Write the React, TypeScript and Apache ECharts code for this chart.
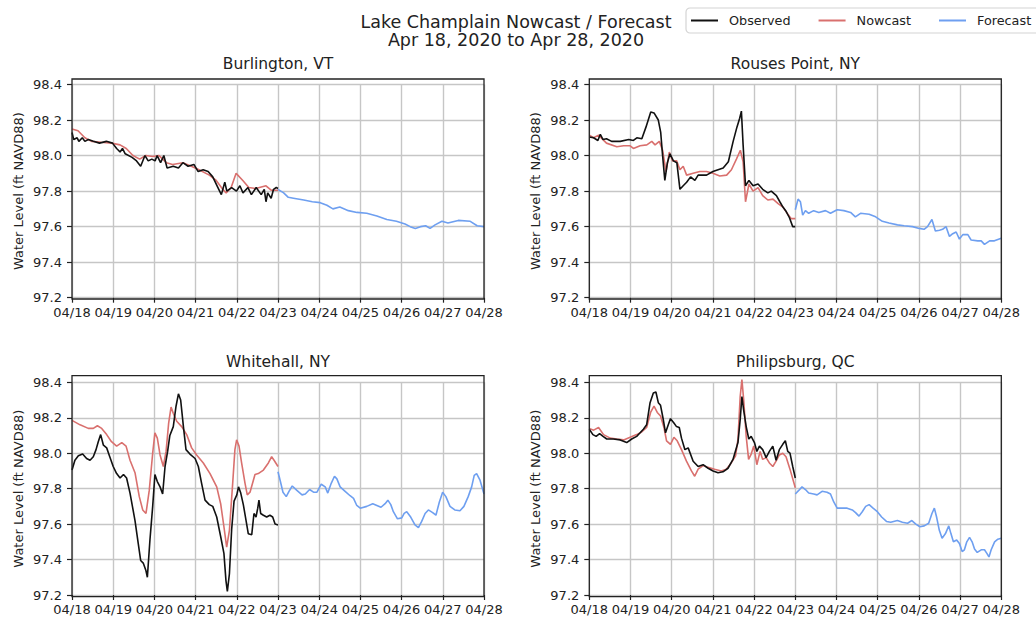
import React, { useEffect, useRef } from "react";
import * as echarts from "echarts";

// x values are hours since 04/18 00:00, y values are water level (ft NAVD88)
const stations = ["Burlington, VT", "Rouses Point, NY", "Whitehall, NY", "Philipsburg, QC"];
const dayLabels = ["04/18", "04/19", "04/20", "04/21", "04/22", "04/23", "04/24", "04/25", "04/26", "04/27", "04/28"];
const yTicks = [97.2, 97.4, 97.6, 97.8, 98.0, 98.2, 98.4];

const burlingtonObserved = [
  [0, 98.13], [1, 98.09], [3, 98.1], [4, 98.08], [6, 98.1], [7.5, 98.08], [9.5, 98.09], [12.4, 98.08], [16, 98.07],
  [20, 98.08], [23.6, 98.07], [26, 98.04], [28, 98.02], [29.4, 98.04], [31, 98.01], [35, 97.99], [37.6, 97.97],
  [40, 97.94], [42.5, 98.0], [44.4, 97.97], [46.5, 97.98], [48.4, 97.97], [49.6, 98.0], [51.6, 97.96], [53.5, 98.0],
  [55.4, 97.93], [59, 97.94], [62, 97.93], [64.6, 97.96], [67.6, 97.94], [71, 97.95], [73.5, 97.91], [76.4, 97.92],
  [79.3, 97.91], [82, 97.88], [85, 97.82], [87, 97.78], [89, 97.85], [90.2, 97.8], [93, 97.82], [95.8, 97.8],
  [97.8, 97.83], [99.6, 97.79], [102.5, 97.82], [104.5, 97.78], [107.3, 97.82], [110.2, 97.78], [112, 97.81],
  [113, 97.74], [114, 97.79], [116, 97.76], [117.4, 97.81], [119, 97.82], [120, 97.815],
];
const burlingtonNowcast = [
  [0, 98.15], [3.5, 98.14], [7.5, 98.1], [11.4, 98.08], [17, 98.075], [23, 98.07], [28, 98.06], [31.6, 98.04],
  [35.5, 98.0], [39.4, 97.98], [43, 98.0], [47, 97.995], [50.7, 98.0], [55, 97.96], [58.6, 97.95], [64.6, 97.96],
  [69.5, 97.94], [74, 97.92], [80, 97.89], [84, 97.86], [87.8, 97.81], [89.8, 97.79], [92.7, 97.82], [95.6, 97.9],
  [99.5, 97.86], [103, 97.82], [107, 97.815], [113, 97.83], [116, 97.805], [120, 97.805],
];
const burlingtonForecast = [
  [120, 97.81], [123.3, 97.79], [126, 97.765], [129, 97.76], [135, 97.75], [140, 97.74], [144.6, 97.735],
  [148.5, 97.72], [152, 97.7], [156, 97.71], [161, 97.69], [166, 97.68], [171.7, 97.675], [177.6, 97.66],
  [183.4, 97.64], [189, 97.63], [194, 97.615], [197, 97.6], [200, 97.59], [203, 97.6], [206, 97.605],
  [208.6, 97.59], [211.5, 97.61], [215.5, 97.63], [219, 97.62], [225, 97.635], [232, 97.63], [236, 97.605], [240, 97.6],
];

const rousesObserved = [
  [0, 98.105], [2.5, 98.1], [5, 98.085], [6.4, 98.12], [8, 98.09], [10, 98.095], [13, 98.08], [18, 98.08],
  [23, 98.09], [25.7, 98.085], [27.7, 98.1], [30.6, 98.095], [33, 98.16], [35.8, 98.245], [37.7, 98.24],
  [40.2, 98.2], [41.6, 98.13], [42.7, 98.0], [44, 97.86], [45.5, 97.96], [47, 98.01], [49, 97.97], [51, 97.96],
  [52.8, 97.81], [54.7, 97.83], [56.7, 97.85], [59, 97.88], [61.5, 97.86], [63.4, 97.89], [68.3, 97.89],
  [72, 97.91], [75, 97.92], [78, 97.93], [81, 97.965], [83.8, 98.08], [86, 98.16], [87.6, 98.21], [88.6, 98.25],
  [89.6, 98.06], [91, 97.83], [93, 97.86], [95.4, 97.83], [98.3, 97.84], [101, 97.81], [104, 97.79], [106, 97.8],
  [109, 97.775], [111, 97.74], [112.8, 97.71], [114.7, 97.685], [116.6, 97.65], [118.5, 97.6], [120, 97.6],
];
const rousesNowcast = [
  [0, 98.115], [2.5, 98.1], [5.4, 98.115], [7.4, 98.095], [10, 98.07], [16, 98.05], [20, 98.055], [23.8, 98.055],
  [25.7, 98.04], [29.6, 98.055], [33.5, 98.06], [36.4, 98.08], [38.3, 98.06], [40.8, 98.08], [42.7, 98.03],
  [44.7, 97.91], [46.6, 98.02], [48.5, 97.97], [50.9, 97.97], [52.8, 97.92], [54.7, 97.94], [56.7, 97.89],
  [60.5, 97.9], [64.4, 97.91], [68.3, 97.91], [72, 97.9], [76, 97.885], [80, 97.89], [82.8, 97.92], [85.7, 97.98],
  [88, 98.03], [89.6, 97.965], [91, 97.74], [93, 97.84], [95.4, 97.8], [98.3, 97.82], [101, 97.775], [104, 97.75],
  [107, 97.755], [110, 97.73], [112.8, 97.71], [115.7, 97.67], [117.6, 97.645], [120, 97.645],
];
const rousesForecast = [
  [120, 97.695], [121.6, 97.755], [123, 97.74], [124.3, 97.665], [125.9, 97.69], [127.8, 97.675], [130.7, 97.69],
  [133.7, 97.68], [137.6, 97.69], [140.5, 97.675], [144.4, 97.695], [148.3, 97.69], [152.2, 97.68], [155, 97.655],
  [158, 97.675], [163, 97.67], [166.8, 97.655], [170.7, 97.63], [174.6, 97.62], [179.5, 97.61], [183.4, 97.605],
  [188.3, 97.6], [192.2, 97.59], [195, 97.585], [197, 97.6], [199.6, 97.64], [201.6, 97.575], [204, 97.58],
  [205.8, 97.585], [207.8, 97.6], [209.8, 97.545], [211.7, 97.56], [213.7, 97.57], [215.6, 97.53], [217.6, 97.555],
  [220.5, 97.555], [222.4, 97.525], [226.3, 97.52], [228.3, 97.52], [230.2, 97.5], [233.2, 97.52], [236, 97.52], [240, 97.535],
];

const whitehallObserved = [
  [0, 97.905], [1.7, 97.96], [3.7, 97.985], [6.2, 97.995], [8.5, 97.97], [10.5, 97.96], [12.4, 97.98], [14, 98.02],
  [15.3, 98.065], [16.7, 98.105], [18.3, 98.045], [20.2, 98.03], [22, 97.98], [24, 97.925], [26, 97.885], [28, 97.86],
  [30, 97.88], [31.8, 97.86], [33.8, 97.775], [36.7, 97.62], [38.6, 97.49], [40, 97.395], [41.5, 97.38], [43, 97.34],
  [43.9, 97.3], [45.4, 97.51], [47, 97.7], [48.3, 97.88], [49.7, 97.84], [51.3, 97.81], [52.8, 97.77], [54.2, 97.925],
  [55.7, 98.01], [57, 98.1], [59, 98.15], [60.6, 98.265], [62, 98.335], [63.3, 98.3], [64.9, 98.15], [66.4, 98.02],
  [68.7, 97.995], [71.7, 97.97], [73.6, 97.925], [75.5, 97.83], [77.5, 97.735], [80, 97.71], [82, 97.7], [84.3, 97.64],
  [86.6, 97.53], [88.5, 97.435], [89.7, 97.28], [90.5, 97.22], [91.7, 97.32], [93, 97.57], [94.4, 97.73], [96, 97.765],
  [97, 97.81], [98.3, 97.775], [99.8, 97.71], [101.4, 97.62], [102.7, 97.545], [104.7, 97.54], [106, 97.66],
  [107.2, 97.64], [108.2, 97.69], [108.9, 97.735], [109.9, 97.66], [111.5, 97.65], [113.4, 97.64], [115.3, 97.65],
  [116.9, 97.64], [118.3, 97.6], [120, 97.595],
];
const whitehallNowcast = [
  [0, 98.185], [4.7, 98.16], [9.5, 98.14], [12.4, 98.14], [14.8, 98.155], [17.3, 98.14], [20.2, 98.105], [23, 98.065],
  [26, 98.04], [29, 98.06], [31.5, 98.04], [33.8, 97.96], [36.7, 97.89], [39.2, 97.755], [41.2, 97.68], [43.1, 97.66],
  [45, 97.79], [47, 98.0], [48.3, 98.115], [49.7, 98.085], [51.3, 97.99], [53.2, 97.925], [54.8, 98.01], [56.3, 98.17],
  [57.7, 98.26], [59, 98.225], [61, 98.18], [63.9, 98.15], [66.8, 98.105], [69.7, 98.03], [72.6, 97.99],
  [76.5, 97.945], [80.4, 97.885], [84.3, 97.81], [86.6, 97.715], [88.5, 97.585], [90.1, 97.47], [91.7, 97.565],
  [93.6, 97.83], [94.9, 98.02], [95.9, 98.075], [97.3, 98.04], [98.8, 97.945], [100.8, 97.83], [102.1, 97.765],
  [103.7, 97.78], [106.6, 97.88], [108.5, 97.885], [111.5, 97.905], [114.4, 97.945], [116.3, 97.98], [117.7, 97.96],
  [120, 97.925],
];
const whitehallForecast = [
  [120, 97.895], [121.4, 97.84], [122.9, 97.78], [124.8, 97.755], [126.4, 97.785], [128.3, 97.815], [131, 97.79],
  [134, 97.765], [135.9, 97.77], [138.4, 97.795], [140.7, 97.78], [142.7, 97.78], [145.2, 97.825], [147.5, 97.81],
  [149, 97.775], [151, 97.83], [152.9, 97.87], [154.3, 97.855], [156.2, 97.81], [159.1, 97.785], [162, 97.76],
  [164, 97.745], [165.9, 97.705], [167.9, 97.69], [171.7, 97.7], [175.2, 97.715], [177.6, 97.705], [180, 97.695],
  [182.4, 97.715], [184, 97.735], [185.7, 97.71], [187.2, 97.67], [189.6, 97.63], [192.1, 97.635], [193.5, 97.66],
  [195, 97.67], [197.3, 97.64], [199.8, 97.595], [201.8, 97.58], [203.7, 97.615], [205.7, 97.66], [207.6, 97.68],
  [210.1, 97.665], [212, 97.65], [214, 97.725], [215.9, 97.78], [217.8, 97.755], [220.2, 97.7], [223, 97.68],
  [226, 97.675], [228.3, 97.7], [230.8, 97.755], [232.8, 97.81], [234.3, 97.875], [235.7, 97.885], [237.6, 97.85], [240, 97.77],
];

const philipsburgObserved = [
  [0, 98.135], [2.1, 98.105], [4, 98.095], [6, 98.11], [8, 98.095], [10.2, 98.08], [14, 98.08], [18, 98.075],
  [21.8, 98.06], [24.7, 98.08], [27.6, 98.095], [29.6, 98.115], [31.5, 98.135], [33.4, 98.16], [35.4, 98.285],
  [37.3, 98.34], [38.8, 98.345], [40.2, 98.285], [41.5, 98.27], [43.1, 98.19], [44.4, 98.115], [46, 98.16],
  [47.3, 98.195], [49.3, 98.17], [50.8, 98.15], [52.4, 98.145], [53.7, 98.085], [55.7, 98.02], [57.6, 98.03],
  [60.5, 97.955], [63.4, 97.925], [66.3, 97.935], [69.2, 97.915], [72.1, 97.9], [75, 97.89], [77.9, 97.895],
  [80.8, 97.915], [83.7, 97.965], [86.6, 98.06], [87.9, 98.19], [88.9, 98.32], [89.9, 98.245], [91.4, 98.15],
  [92.9, 98.08], [94.3, 98.095], [96.2, 98.06], [97.6, 98.01], [99.1, 98.04], [101, 98.02], [103, 97.975],
  [104.9, 98.01], [106.9, 98.04], [108.8, 97.96], [110.7, 98.02], [112.7, 98.05], [114.2, 98.07], [115.6, 98.01],
  [116.9, 98.0], [118.5, 97.925], [120, 97.86],
];
const philipsburgNowcast = [
  [0, 98.14], [2.5, 98.13], [5.4, 98.145], [8.3, 98.105], [12.2, 98.085], [16, 98.08], [20, 98.075], [23.8, 98.09],
  [27.6, 98.105], [30.5, 98.12], [33.4, 98.145], [35.7, 98.23], [37.7, 98.265], [39.6, 98.23], [41.5, 98.21],
  [43.5, 98.145], [45, 98.07], [47.3, 98.05], [49.3, 98.09], [51.2, 98.07], [53.7, 98.02], [56.6, 97.955],
  [59.5, 97.9], [61.4, 97.87], [63.4, 97.91], [66.3, 97.93], [69.2, 97.92], [73, 97.91], [76.9, 97.9], [79.8, 97.91],
  [82.7, 97.945], [85.2, 97.985], [86.6, 98.08], [87.9, 98.32], [88.9, 98.415], [89.9, 98.305], [91.4, 98.095],
  [92.8, 97.965], [94.3, 97.995], [95.8, 98.04], [97.6, 97.935], [99.5, 98.01], [101, 97.965], [103, 97.975],
  [104.9, 97.945], [106.9, 97.925], [108.8, 97.955], [110.7, 97.99], [112.7, 98.0], [114.6, 97.98], [116.9, 97.91],
  [120, 97.805],
];
const philipsburgForecast = [
  [120, 97.77], [122, 97.79], [123.9, 97.81], [125.9, 97.795], [127.8, 97.775], [130.7, 97.77], [132.7, 97.765],
  [135.6, 97.785], [138.5, 97.78], [140.5, 97.77], [142.4, 97.725], [144.4, 97.69], [147.3, 97.69], [150.2, 97.69],
  [153.2, 97.68], [155.1, 97.665], [157.1, 97.645], [159, 97.67], [161, 97.7], [163, 97.71], [165.3, 97.69],
  [167.8, 97.67], [170.3, 97.64], [173.1, 97.615], [175.6, 97.61], [179.5, 97.62], [182.4, 97.61], [185.4, 97.605],
  [187.9, 97.62], [190.2, 97.6], [192.6, 97.585], [195.1, 97.59], [197.7, 97.605], [199.6, 97.66], [201, 97.69],
  [202.3, 97.64], [203.9, 97.565], [205.5, 97.52], [207.4, 97.545], [209.4, 97.59], [210.7, 97.545], [212.1, 97.5],
  [214, 97.51], [215.6, 97.49], [217.2, 97.445], [218.5, 97.455], [219.9, 97.5], [221.5, 97.525], [223, 97.5],
  [224.4, 97.46], [226, 97.44], [228.3, 97.455], [230.2, 97.455], [231.6, 97.435], [232.8, 97.415], [234.1, 97.455],
  [236.1, 97.5], [238, 97.515], [240, 97.52],
];

const observedSets = [burlingtonObserved, rousesObserved, whitehallObserved, philipsburgObserved];
const nowcastSets = [burlingtonNowcast, rousesNowcast, whitehallNowcast, philipsburgNowcast];
const forecastSets = [burlingtonForecast, rousesForecast, whitehallForecast, philipsburgForecast];
const legendNames = ["Observed", "Nowcast", "Forecast"];

const FONT = "DejaVu Sans";
const TXT = "#222";
const COLORS: Record<string, string> = { Observed: "#111111", Nowcast: "#d9706e", Forecast: "#6e9ff0" };

// layout of the four panels (pixels)
const panels = [
  { left: 72, top: 84.5, height: 213.2, frameTop: 79, frameBottom: 299, titleTop: 54.5 },
  { left: 589.3, top: 84.5, height: 213.2, frameTop: 79, frameBottom: 299, titleTop: 54.5 },
  { left: 72, top: 382.3, height: 212.7, frameTop: 375.7, frameBottom: 596.7, titleTop: 352.7 },
  { left: 589.3, top: 382.3, height: 212.7, frameTop: 375.7, frameBottom: 596.7, titleTop: 352.7 },
];
const PW = 412;

export default function App() {
  const ref = useRef<HTMLDivElement>(null);
  useEffect(() => {
    if (!ref.current) return;
    const chart = echarts.init(ref.current, null, { renderer: "svg" });
    const grid: any[] = [];
    const xAxis: any[] = [];
    const yAxis: any[] = [];
    const series: any[] = [];
    const titles: any[] = [
      {
        text: "Lake Champlain Nowcast / Forecast\nApr 18, 2020 to Apr 28, 2020",
        left: 516,
        top: 12.5,
        textAlign: "center",
        padding: 0,
        textStyle: { fontFamily: FONT, fontSize: 17.5, fontWeight: "normal", color: TXT, lineHeight: 18, align: "center" },
      },
    ];
    const graphics: any[] = [];
    panels.forEach((p, i) => {
      grid.push({ left: p.left, top: p.top, width: PW, height: p.height, outerBoundsMode: "none", containLabel: false });
      xAxis.push({
        type: "value",
        gridIndex: i,
        min: 0,
        max: 240,
        interval: 24,
        axisLine: { show: false },
        axisTick: { show: true, length: 5, lineStyle: { color: TXT, width: 1.2 } },
        axisLabel: {
          margin: 8,
          fontFamily: FONT,
          fontSize: 13,
          color: TXT,
          formatter: (v: number) => dayLabels[Math.round(v / 24)] ?? "",
        },
        splitLine: { show: true, lineStyle: { color: "#c6c6c6", width: 1.4 } },
      });
      yAxis.push({
        type: "value",
        gridIndex: i,
        min: yTicks[0],
        max: yTicks[yTicks.length - 1],
        interval: 0.2,
        name: "Water Level (ft NAVD88)",
        nameLocation: "middle",
        nameGap: 47,
        nameTextStyle: { fontFamily: FONT, fontSize: 13, color: TXT },
        axisLine: { show: false },
        axisTick: { show: true, length: 5, lineStyle: { color: TXT, width: 1.2 } },
        axisLabel: { margin: 10, fontFamily: FONT, fontSize: 13, color: TXT, formatter: (v: number) => v.toFixed(1) },
        splitLine: { show: true, lineStyle: { color: "#c6c6c6", width: 1.4 } },
      });
      const mk = (name: string, data: number[][]) => ({
        name,
        type: "line",
        xAxisIndex: i,
        yAxisIndex: i,
        data,
        symbol: "none",
        showSymbol: false,
        clip: false,
        lineStyle: { color: COLORS[name], width: 1.6 },
        itemStyle: { color: COLORS[name] },
        z: name === "Observed" ? 4 : name === "Nowcast" ? 3 : 2,
      });
      series.push(mk("Forecast", forecastSets[i]));
      series.push(mk("Nowcast", nowcastSets[i]));
      series.push(mk("Observed", observedSets[i]));
      titles.push({
        text: stations[i],
        left: p.left + PW / 2,
        top: p.titleTop,
        textAlign: "center",
        padding: 0,
        textStyle: { fontFamily: FONT, fontSize: 15.5, fontWeight: "normal", color: TXT, lineHeight: 18 },
      });
      graphics.push({
        type: "rect",
        silent: true,
        z: 100,
        shape: { x: p.left, y: p.frameTop, width: PW, height: p.frameBottom - p.frameTop },
        style: { fill: "none", stroke: "#222", lineWidth: 1.3 },
      });
    });

    chart.setOption({
      animation: false,
      backgroundColor: "#ffffff",
      title: titles,
      legend: {
        data: legendNames,
        icon: "rect",
        left: 686,
        top: 8,
        width: 420,
        padding: [5, 10, 5, 5],
        itemWidth: 27,
        itemHeight: 2,
        itemGap: 28,
        backgroundColor: "#ffffff",
        borderColor: "#d4d4d4",
        borderWidth: 1.2,
        borderRadius: 4,
        textStyle: { fontFamily: FONT, fontSize: 12.8, color: TXT, padding: [0, 0, 0, 6], lineHeight: 15 },
      },
      grid,
      xAxis,
      yAxis,
      series,
      graphic: graphics,
    });
    return () => chart.dispose();
  }, []);
  return <div ref={ref} style={{ position: "fixed", left: 0, top: 0, width: 1036, height: 622 }} />;
}
